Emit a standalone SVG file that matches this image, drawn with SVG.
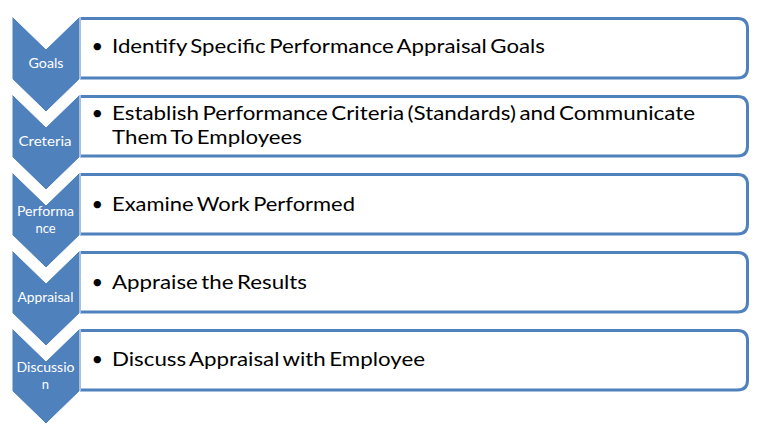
<svg xmlns="http://www.w3.org/2000/svg" width="778" height="426" viewBox="0 0 778 426">
<defs>
<style>
.box{fill:#FFFFFF;stroke:#4F81BD;stroke-width:3}
.chev{fill:#4F81BD;stroke:#FFFFFF;stroke-width:1}
.lbl{font-family:Lato,"Open Sans","Liberation Sans",sans-serif;font-size:13px;fill:#FFFFFF;text-anchor:middle}
.txt{font-family:Lato,"Open Sans","Liberation Sans",sans-serif;font-size:20px;fill:#000000;word-spacing:-2px}
</style>
</defs>
<rect width="778" height="426" fill="#FFFFFF"/>
<g id="step1">
<path class="box" d="M79.5 18.5 H737.5 Q747.5 18.5 747.5 28.5 V68 Q747.5 78 737.5 78 H79.5 Z"/>
<path class="chev" d="M12 16 L46 49 L80 16 V79 L46 112 L12 79 Z"/>
<text class="lbl" x="46" y="68" textLength="35" lengthAdjust="spacingAndGlyphs">Goals</text>
<text class="txt" x="91.5" y="53">•</text>
<text class="txt" x="112" y="53" textLength="433" lengthAdjust="spacingAndGlyphs">Identify Specific Performance Appraisal Goals</text>
</g>
<g id="step2">
<path class="box" d="M79.5 96.5 H737.5 Q747.5 96.5 747.5 106.5 V146 Q747.5 156 737.5 156 H79.5 Z"/>
<path class="chev" d="M12 94 L46 127 L80 94 V157 L46 190 L12 157 Z"/>
<text class="lbl" x="45" y="146" textLength="53" lengthAdjust="spacingAndGlyphs">Creteria</text>
<text class="txt" x="91.5" y="120">•</text>
<text class="txt" x="112" y="120" textLength="583" lengthAdjust="spacingAndGlyphs">Establish Performance Criteria (Standards) and Communicate</text>
<text class="txt" x="112" y="144" textLength="190" lengthAdjust="spacingAndGlyphs">Them To Employees</text>
</g>
<g id="step3">
<path class="box" d="M79.5 174.5 H737.5 Q747.5 174.5 747.5 184.5 V224 Q747.5 234 737.5 234 H79.5 Z"/>
<path class="chev" d="M12 172 L46 205 L80 172 V235 L46 268 L12 235 Z"/>
<text class="lbl" x="45.5" y="216" textLength="57" lengthAdjust="spacingAndGlyphs">Performa</text>
<text class="lbl" x="45.5" y="233">nce</text>
<text class="txt" x="91.5" y="211">•</text>
<text class="txt" x="112" y="211" textLength="243" lengthAdjust="spacingAndGlyphs">Examine Work Performed</text>
</g>
<g id="step4">
<path class="box" d="M79.5 252.5 H737.5 Q747.5 252.5 747.5 262.5 V302 Q747.5 312 737.5 312 H79.5 Z"/>
<path class="chev" d="M12 250 L46 283 L80 250 V313 L46 346 L12 313 Z"/>
<text class="lbl" x="45.5" y="302" textLength="56" lengthAdjust="spacingAndGlyphs">Appraisal</text>
<text class="txt" x="91.5" y="289">•</text>
<text class="txt" x="112" y="289" textLength="195" lengthAdjust="spacingAndGlyphs">Appraise the Results</text>
</g>
<g id="step5">
<path class="box" d="M79.5 330.5 H737.5 Q747.5 330.5 747.5 340.5 V380 Q747.5 390 737.5 390 H79.5 Z"/>
<path class="chev" d="M12 328 L46 361 L80 328 V391 L46 424 L12 391 Z"/>
<text class="lbl" x="45.5" y="372" textLength="58" lengthAdjust="spacingAndGlyphs">Discussio</text>
<text class="lbl" x="45.5" y="389">n</text>
<text class="txt" x="91.5" y="366">•</text>
<text class="txt" x="112" y="366" textLength="313" lengthAdjust="spacingAndGlyphs">Discuss Appraisal with Employee</text>
</g>
<g id="connectors"></g>
</svg>
